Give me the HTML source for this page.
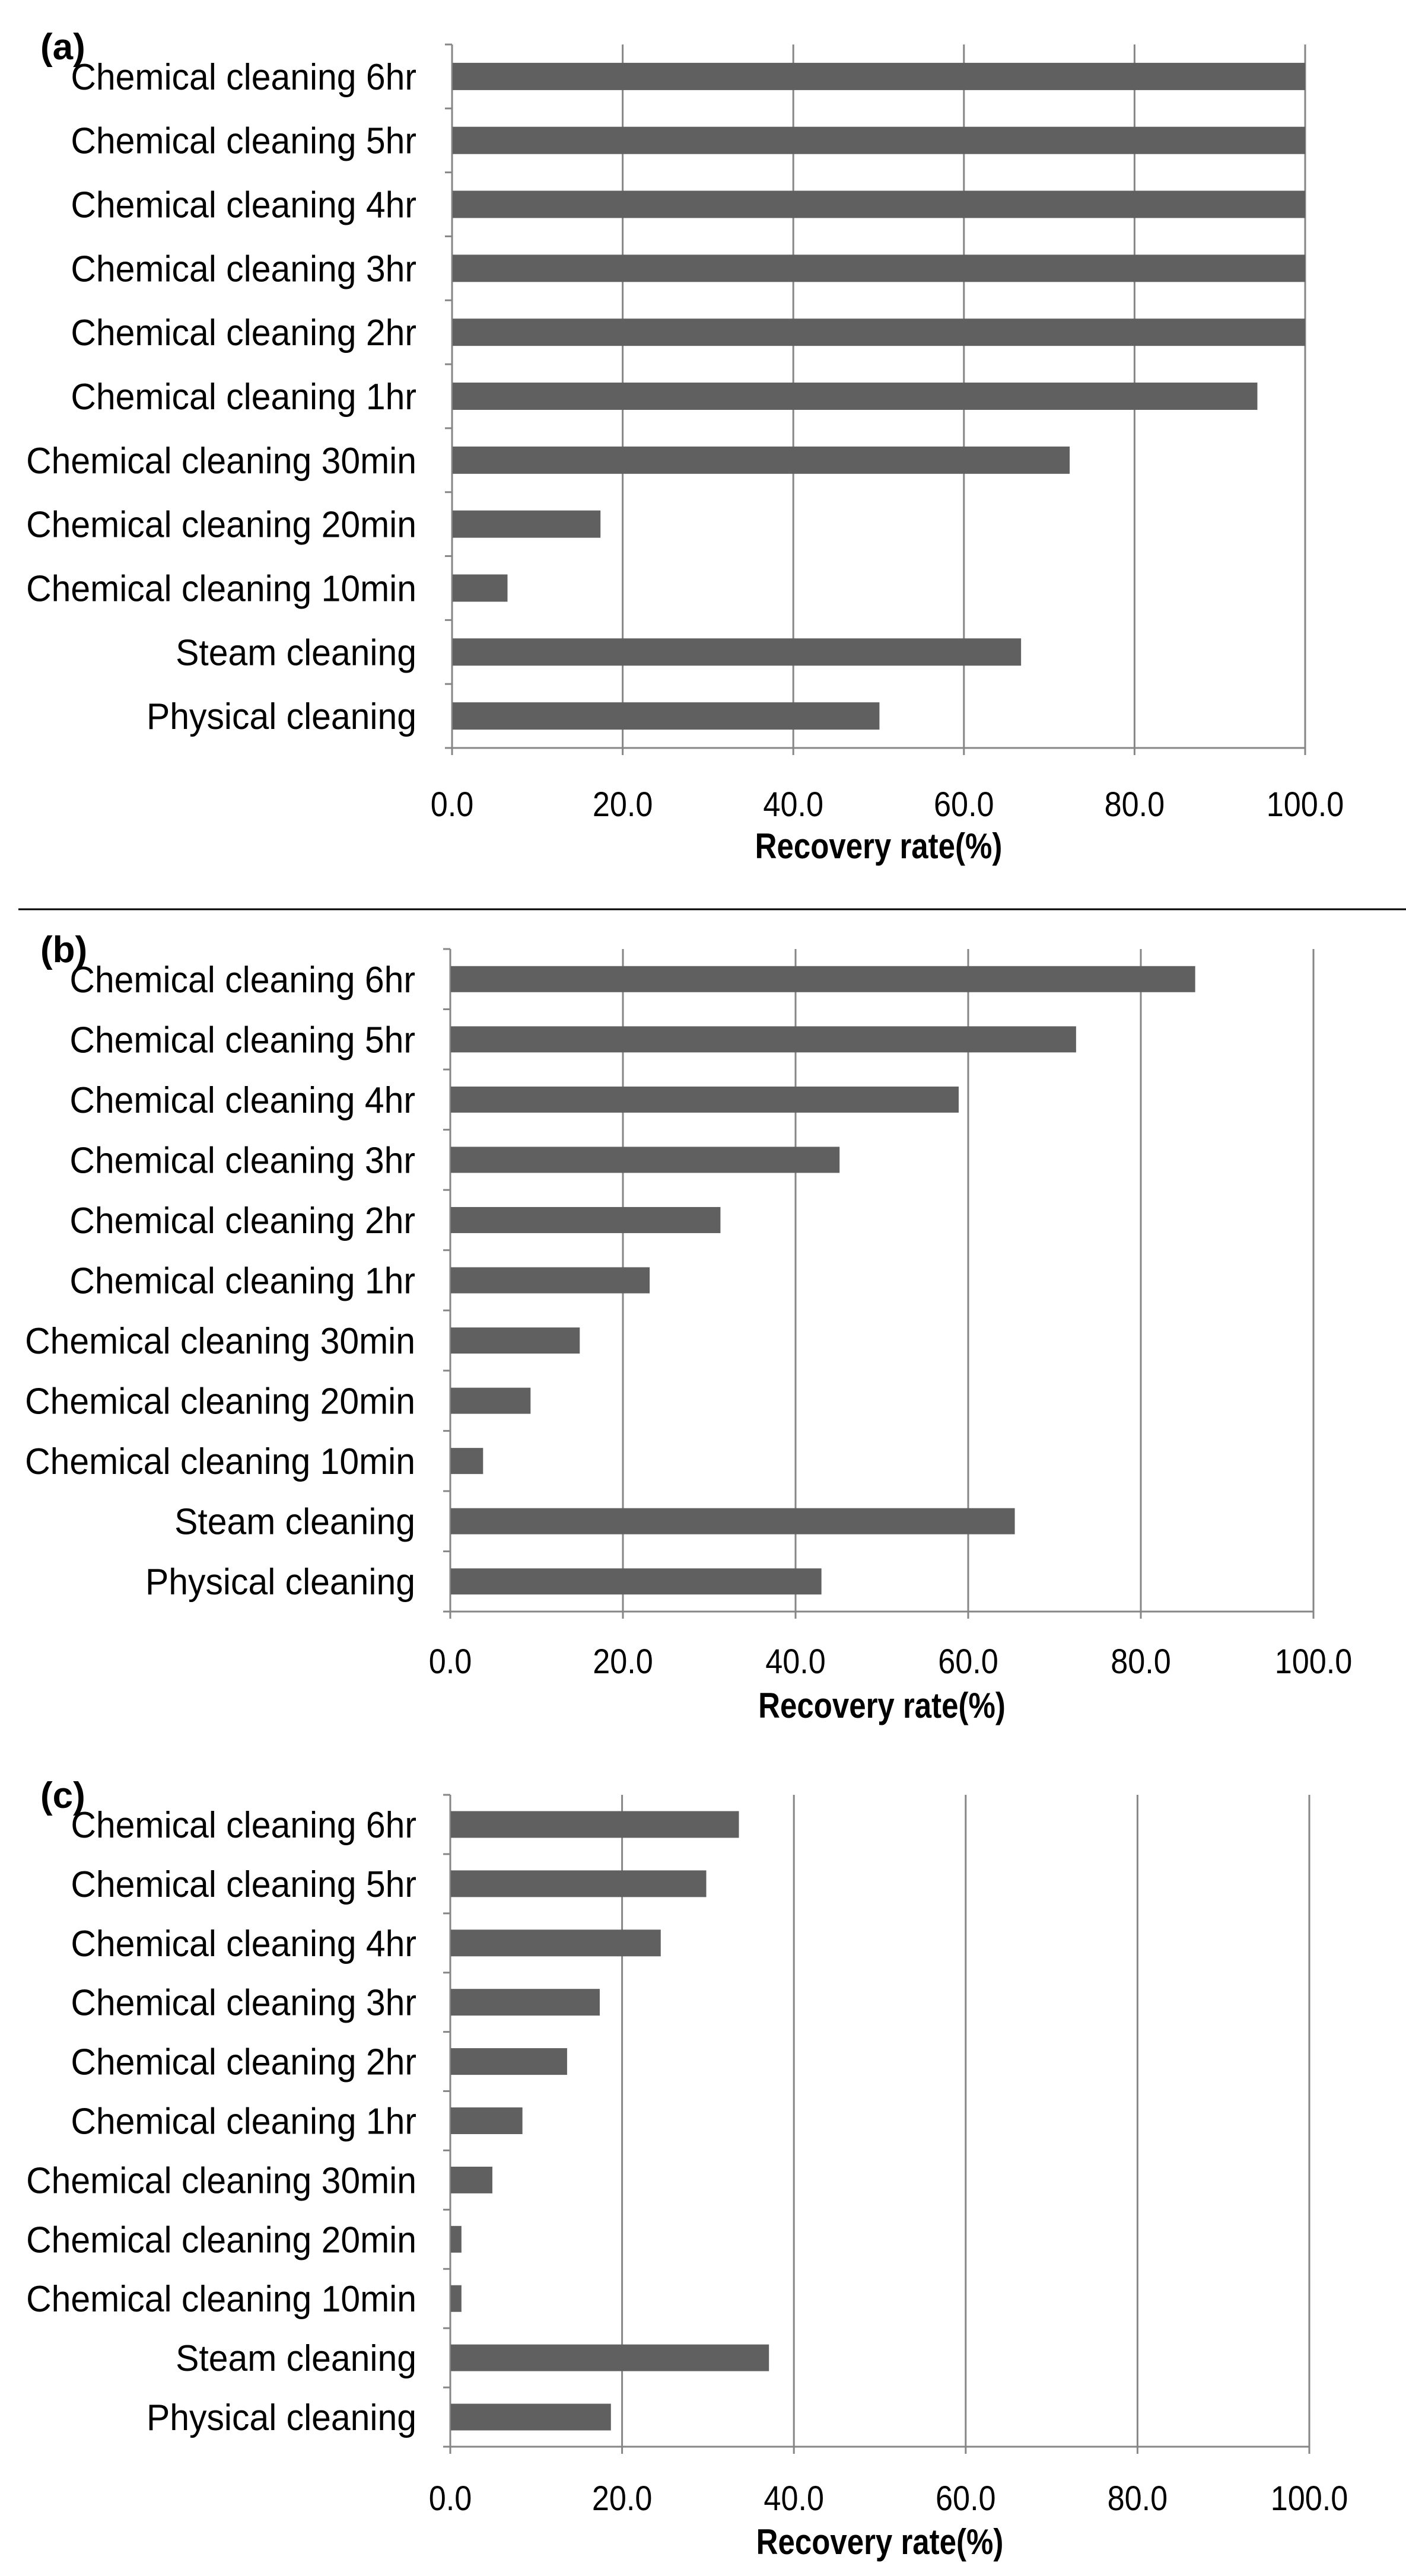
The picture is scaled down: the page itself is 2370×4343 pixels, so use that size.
<!DOCTYPE html>
<html><head><meta charset="utf-8"><style>
html,body{margin:0;padding:0;background:#fff}
svg{display:block}
text{font-family:"Liberation Sans",sans-serif;fill:#000}
</style></head><body>
<svg id="fig" width="2370" height="4343" viewBox="0 0 2370 4343" xmlns="http://www.w3.org/2000/svg">
<line x1="31" y1="1533" x2="2370" y2="1533" stroke="#000" stroke-width="3"/>
</svg>
<script>
const categories = ["Chemical cleaning 6hr","Chemical cleaning 5hr","Chemical cleaning 4hr","Chemical cleaning 3hr","Chemical cleaning 2hr","Chemical cleaning 1hr","Chemical cleaning 30min","Chemical cleaning 20min","Chemical cleaning 10min","Steam cleaning","Physical cleaning"];
const valuesA = [100,100,100,100,100,94.4,72.4,17.4,6.5,66.7,50.1];
const valuesB = [86.3,72.5,58.9,45.1,31.3,23.1,15.0,9.3,3.8,65.4,43.0];
const valuesC = [33.6,29.8,24.5,17.4,13.6,8.4,4.9,1.3,1.3,37.1,18.7];
const tickValues = [0,20,40,60,80,100];
const tickLabels = ["0.0","20.0","40.0","60.0","80.0","100.0"];
const axisTitle = "Recovery rate(%)";

const NS = "http://www.w3.org/2000/svg";
const svg = document.getElementById("fig");
function mk(tag, attrs, parent){
  const e = document.createElementNS(NS, tag);
  for (const k in attrs) e.setAttribute(k, attrs[k]);
  (parent||svg).appendChild(e);
  return e;
}
const panels = [
  {id:"a", vals:valuesA, x0:762, x1:2200, top:75, bottom:1261, barH:46, labelX:702, tickY:1376, titleY:1447, tagY:100},
  {id:"b", vals:valuesB, x0:759, x1:2214, top:1600, bottom:2717, barH:44, labelX:700, tickY:2821, titleY:2896, tagY:1622},
  {id:"c", vals:valuesC, x0:759, x1:2207, top:3026, bottom:4125, barH:45, labelX:702, tickY:4232, titleY:4306, tagY:3048}
];
panels.forEach(p => {
  const g = mk("g", {});
  
  
  const xs = v => p.x0 + (p.x1 - p.x0) * v / 100;
  const n = categories.length;
  const band = (p.bottom - p.top) / n;
  tickValues.forEach((t, i) => {
    if (t > 0) {
      const gl = mk("line", {x1:xs(t), y1:p.top, x2:xs(t), y2:p.bottom, stroke:"#868686", "stroke-width":3}, g);
      
      
    }
    const tk = mk("line", {x1:xs(t), y1:p.bottom, x2:xs(t), y2:p.bottom+12, stroke:"#868686", "stroke-width":3}, g);
    
    
    const tl = mk("text", {x:0, y:0, "text-anchor":"middle", "font-size":58, transform:`translate(${xs(t)},${p.tickY}) scale(0.9,1)`}, g);
    tl.textContent = tickLabels[i];
    
    
  });
  const ya = mk("line", {x1:p.x0, y1:p.top, x2:p.x0, y2:p.bottom, stroke:"#868686", "stroke-width":3}, g);
  
  
  const xa = mk("line", {x1:p.x0-12, y1:p.bottom, x2:p.x1, y2:p.bottom, stroke:"#868686", "stroke-width":3}, g);
  
  
  for (let i = 0; i < n; i++) {
    const ty = p.top + band * i;
    const yt = mk("line", {x1:p.x0-12, y1:ty, x2:p.x0, y2:ty, stroke:"#868686", "stroke-width":3}, g);
    
    
    const cy = ty + band / 2;
    const bar = mk("rect", {x:p.x0+1, y:cy - p.barH/2, width:Math.max(0, xs(p.vals[i]) - p.x0 - 1), height:p.barH, fill:"#606060"}, g);
    
    
    const lb = mk("text", {x:0, y:0, "text-anchor":"end", "font-size":62, transform:`translate(${p.labelX},${cy+22}) scale(0.95,1)`}, g);
    lb.textContent = categories[i];
    
    
  }
  const tt = mk("text", {x:0, y:0, "text-anchor":"middle", "font-size":60, "font-weight":"bold", transform:`translate(${(p.x0+p.x1)/2},${p.titleY}) scale(0.85,1)`}, g);
  tt.textContent = axisTitle;
  
  
  const tag = mk("text", {x:68, y:p.tagY, "font-size":62, "font-weight":"bold"}, g);
  tag.textContent = "(" + p.id + ")";
  
  
});
</script>
</body></html>
